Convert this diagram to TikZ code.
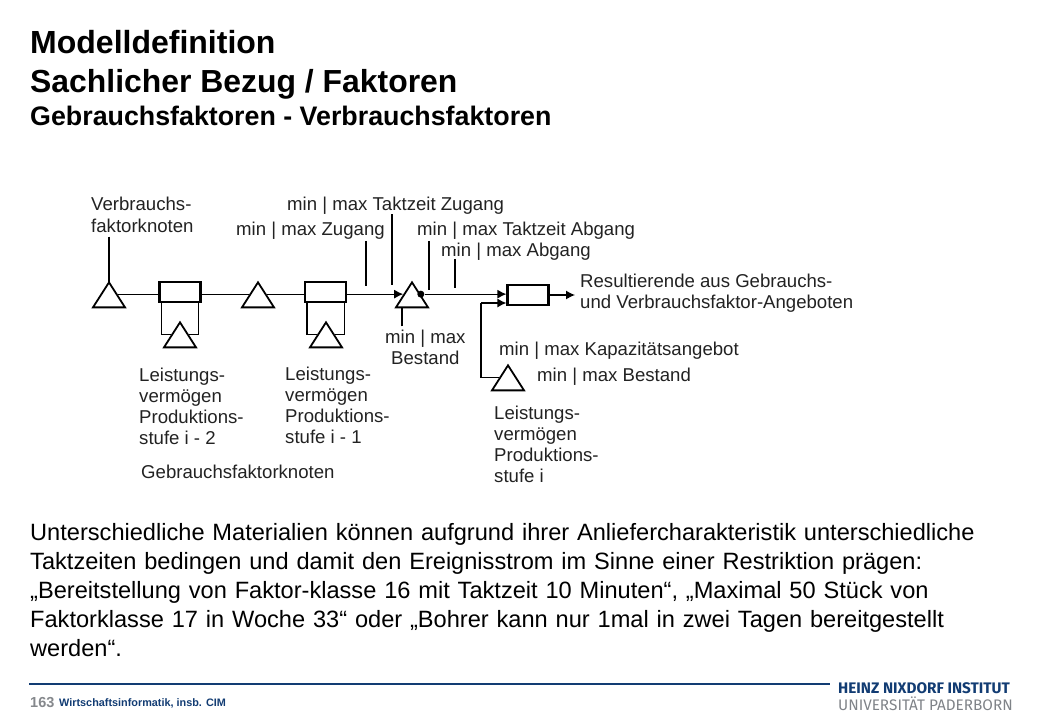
\documentclass[tikz,border=0pt]{standalone}
\usepackage{fontspec}
\setmainfont{Liberation Sans}
\newfontfamily\logofont{Fira Sans}
\usetikzlibrary{positioning,arrows.meta,shapes.geometric}
\definecolor{instblue}{HTML}{123C73}
\definecolor{logogrey}{HTML}{7F8388}
\definecolor{pagegrey}{HTML}{85888C}
\definecolor{labelgrey}{HTML}{222222}
\newcommand{\zeile}[2]{\makebox[#1pt][s]{#2}}
\tikzset{
  lagernode/.style={
    draw=black, fill=white, isosceles triangle, isosceles triangle stretches,
    shape border rotate=90, minimum width=32pt, minimum height=25pt,
    inner sep=0pt, line width=1.8pt, anchor=apex,
  },
  stufe/.style={
    draw=black, fill=white, minimum width=41pt, minimum height=20pt,
    inner sep=0pt, line width=2.2pt,
  },
  flow/.style ={line width=1.2pt},
  flowtip/.style={flow, -{Latex[length=9pt,width=9pt]}},
  leader/.style={line width=1.1pt},
  dotmark/.style={circle, fill=black, inner sep=0pt, minimum size=7pt},
  lbl/.style={font={\fontsize{18.6}{21}\selectfont}, text=labelgrey, inner sep=0pt,
              anchor=west, align=left},
  ttl/.style={font=\bfseries, text=black, inner sep=0pt, anchor=west},
}
\begin{document}
\begin{tikzpicture}[x=1pt, y=-1pt]
\useasboundingbox (0,0) rectangle (1040,720);

% ---------------------------------------------------------------- titles
\node[ttl, font={\bfseries\fontsize{32}{36}\selectfont}] (title) at (30,42) {Modelldefinition};
\node[ttl, font={\bfseries\fontsize{31.9}{36}\selectfont}] (subtitle) at (30,84) {Sachlicher Bezug / Faktoren};
\node[ttl, font={\bfseries\fontsize{26.8}{30}\selectfont}] (subsub) at (30,116) {Gebrauchsfaktoren - Verbrauchsfaktoren};

% ---------------------------------------------------------------- chain
\node[lagernode] (vnode1) at (109,280) {};
\node[stufe] (stufe1) at (180,292) {};
\node[lagernode] (vnode2) at (258,280) {};
\node[stufe] (stufe2) at (325.5,292) {};
\node[lagernode] (vnode3) at (412,280) {};
\node[stufe] (stufe3) at (528,295) {};
\node[dotmark] (dot) at (vnode3.right side) {};

\node[lagernode] (gnode1) at (180,320) {};
\node[lagernode] (gnode2) at (326,320) {};
\node[lagernode] (gnode3) at (508,363) {};

\coordinate (ende) at (575,295);
\coordinate (knick) at (481,303);

% ---------------------------------------------------------------- edges
\draw[flow] (vnode1.right side) -- (stufe1.west |- vnode1.right side);
\draw[flow] (stufe1.east |- vnode2.left side) -- (vnode2.left side);
\draw[flow] (vnode2.right side) -- (stufe2.west |- vnode2.right side);
\draw[flowtip] (stufe2.east |- vnode3.left side) -- (vnode3.left side);
\draw[flowtip] (dot) -- (stufe3.west |- dot);
\draw[flowtip] (stufe3) -- (ende);
\draw[flow] ([xshift=3pt]stufe1.south west) |- (gnode1.left side);
\draw[flow] ([xshift=-3pt]stufe1.south east) |- (gnode1.right side);
\draw[flow] ([xshift=3pt]stufe2.south west) |- (gnode2.left side);
\draw[flow] ([xshift=-3pt]stufe2.south east) |- (gnode2.right side);
\draw[flow] (gnode3.left side) -| (knick);
\draw[flowtip] (knick) -- (stufe3.west |- knick);

% ---------------------------------------------------------------- labels
\node[lbl] (lverb) at (91,214.5) {Verbrauchs-\\[1pt]faktorknoten};
\node[lbl] (ltz) at (287,205.5) {min | max Taktzeit Zugang};
\node[lbl] (lz) at (236,231) {min | max Zugang};
\node[lbl] (lta) at (417,231) {min | max Taktzeit Abgang};
\node[lbl] (la) at (441,252) {min | max Abgang};
\node[lbl, align=center] (lb) at (385,347) {min | max\\Bestand};
\node[lbl] (lres) at (580,293.5) {Resultierende aus Gebrauchs-\\und Verbrauchsfaktor-Angeboten};
\node[lbl] (lkap) at (499,351) {min | max Kapazitätsangebot};
\node[lbl] (lbest) at (537,377) {min | max Bestand};
\node[lbl] (leist1) at (139,406.5) {Leistungs-\\vermögen\\Produktions-\\stufe i - 2};
\node[lbl] (leist2) at (285,405.5) {Leistungs-\\vermögen\\Produktions-\\stufe i - 1};
\node[lbl] (leist3) at (494,444) {Leistungs-\\vermögen\\Produktions-\\stufe i};
\node[lbl] (lgeb) at (141,472) {Gebrauchsfaktorknoten};

% ---------------------------------------------------------------- leaders
\draw[leader] ([yshift=-4pt]lverb.south -| vnode1.apex) -- ([yshift=-4pt]vnode1.apex);
\draw[leader] ([xshift=130pt,yshift=-1pt]lz.south west) -- ++(0,45);
\draw[leader] ([xshift=105pt]ltz.south west) -- ++(0,71);
\draw[leader] ([xshift=12pt,yshift=-1pt]lta.south west) -- ++(0,49);
\draw[leader] ([xshift=14pt,yshift=2pt]la.south west) -- ++(0,29);
\draw[leader] ([xshift=17pt,yshift=3pt]lb.north west) -- ++(0,-19);

% ---------------------------------------------------------------- body text
\node[inner sep=0pt, anchor=north west, text width=945pt, align=left, text=black,
      font={\fontsize{23.6}{29}\selectfont}] (body) at (30,523)
  {\zeile{945}{Unterschiedliche Materialien können aufgrund ihrer Anliefercharakteristik unterschiedliche}\\
   \zeile{902}{Taktzeiten bedingen und damit den Ereignisstrom im Sinne einer Restriktion prägen:}\\
   \zeile{897}{„Bereitstellung von Faktor-klasse 16 mit Taktzeit 10 Minuten“, „Maximal 50 Stück von}\\
   \zeile{908}{Faktorklasse 17 in Woche 33“ oder „Bohrer kann nur 1mal in zwei Tagen bereitgestellt}\\
   werden“.};

% ---------------------------------------------------------------- footer
\coordinate (fussl) at (29,684);
\coordinate (fussr) at (830,684);
\draw[instblue, line width=2pt] (fussl) -- (fussr);
\node[ttl, text=pagegrey, font={\bfseries\fontsize{14.5}{16}\selectfont}] (page) at (30,703) {163};
\node[ttl, text=instblue, font={\bfseries\fontsize{10.85}{13}\selectfont}] (fach) at (59,703) {Wirtschaftsinformatik, insb. CIM};
\node[ttl, text=instblue, font={\logofont\bfseries\fontsize{15.3}{18}\selectfont}] (logoa) at (838,688) {HEINZ NIXDORF INSTITUT};
\node[ttl, text=logogrey, font={\logofont\mdseries\fontsize{15.3}{18}\selectfont}] (logob) at (838,704) {UNIVERSITÄT PADERBORN};
\end{tikzpicture}
\end{document}
